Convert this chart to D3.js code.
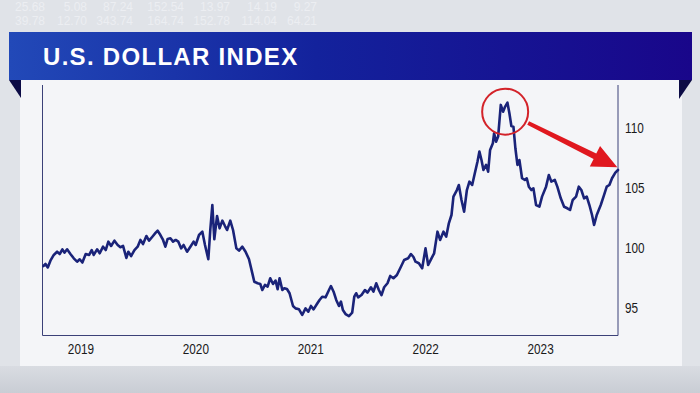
<!DOCTYPE html>
<html>
<head>
<meta charset="utf-8">
<script src="https://cdn.jsdelivr.net/npm/d3@7"></script>
<style>
  html, body { margin: 0; padding: 0; background: #e1e4e9; }
  svg { display: block; }
</style>
</head>
<body>
<svg id="chart"></svg>
<script>
const width = 700, height = 393;

// time in decimal years
const timeYears = [
  2018.678, 2018.696, 2018.716, 2018.739, 2018.768, 2018.797, 2018.820, 2018.843, 2018.861, 2018.884,
  2018.913, 2018.942, 2018.971, 2018.994, 2019.017, 2019.046, 2019.076, 2019.098, 2019.116, 2019.145,
  2019.168, 2019.197, 2019.220, 2019.243, 2019.267, 2019.296, 2019.324, 2019.348, 2019.371, 2019.400,
  2019.417, 2019.441, 2019.470, 2019.498, 2019.522, 2019.545, 2019.574, 2019.597, 2019.626, 2019.655,
  2019.672, 2019.696, 2019.719, 2019.739, 2019.759, 2019.783, 2019.806, 2019.829, 2019.852, 2019.876,
  2019.898, 2019.928, 2019.957, 2019.985, 2020.003, 2020.032, 2020.061, 2020.084, 2020.113, 2020.130,
  2020.148, 2020.165, 2020.189, 2020.211, 2020.235, 2020.258, 2020.276, 2020.304, 2020.328, 2020.357,
  2020.380, 2020.409, 2020.437, 2020.467, 2020.496, 2020.513, 2020.542, 2020.565, 2020.583, 2020.606,
  2020.629, 2020.652, 2020.676, 2020.698, 2020.716, 2020.733, 2020.757, 2020.774, 2020.797, 2020.820,
  2020.850, 2020.872, 2020.902, 2020.930, 2020.959, 2020.983, 2021.006, 2021.029, 2021.058, 2021.081,
  2021.104, 2021.133, 2021.163, 2021.180, 2021.203, 2021.226, 2021.250, 2021.267, 2021.284, 2021.307,
  2021.337, 2021.365, 2021.383, 2021.400, 2021.417, 2021.446, 2021.476, 2021.498, 2021.528, 2021.550,
  2021.574, 2021.597, 2021.620, 2021.643, 2021.672, 2021.696, 2021.724, 2021.754, 2021.789, 2021.817,
  2021.852, 2021.876, 2021.898, 2021.916, 2021.945, 2021.974, 2022.003, 2022.026, 2022.055, 2022.078,
  2022.107, 2022.130, 2022.159, 2022.183, 2022.206, 2022.229, 2022.246, 2022.276, 2022.293, 2022.316,
  2022.339, 2022.363, 2022.385, 2022.409, 2022.432, 2022.455, 2022.472, 2022.490, 2022.507, 2022.530,
  2022.548, 2022.565, 2022.589, 2022.600, 2022.617, 2022.635, 2022.658, 2022.678, 2022.696, 2022.716,
  2022.733, 2022.750, 2022.768, 2022.785, 2022.803, 2022.820, 2022.843, 2022.867, 2022.884, 2022.902,
  2022.924, 2022.942, 2022.965, 2022.994, 2023.017, 2023.052, 2023.076, 2023.098, 2023.128, 2023.150,
  2023.180, 2023.209, 2023.237, 2023.261, 2023.284, 2023.313, 2023.337, 2023.359, 2023.383, 2023.406,
  2023.429, 2023.452, 2023.470, 2023.493, 2023.528, 2023.557, 2023.580, 2023.603, 2023.626, 2023.655,
  2023.678
];

const dxyValues = [
  98.50, 98.67, 98.38, 98.94, 99.42, 99.69, 99.50, 99.89, 99.61, 99.89,
  99.50, 99.14, 98.86, 99.06, 98.79, 99.50, 99.42, 99.83, 99.42, 99.89,
  99.56, 100.11, 99.83, 100.53, 100.17, 100.61, 100.25, 100.06, 100.17, 99.17,
  99.69, 99.33, 99.83, 100.11, 100.67, 100.33, 101.00, 100.61, 100.94, 101.28,
  101.44, 101.08, 100.67, 100.11, 100.75, 100.81, 100.53, 100.67, 100.53, 99.97,
  100.25, 99.69, 100.11, 100.53, 100.25, 101.08, 101.36, 100.25, 99.06, 101.50,
  103.58, 100.73, 102.67, 101.64, 102.28, 101.83, 101.50, 102.28, 101.50, 99.97,
  99.78, 100.11, 99.69, 99.06, 97.89, 97.19, 97.06, 97.00, 96.50, 96.92,
  96.78, 97.48, 97.00, 97.28, 96.56, 97.48, 96.50, 96.64, 96.58, 96.23,
  95.17, 94.97, 94.89, 94.42, 94.97, 94.69, 95.17, 94.89, 95.33, 95.67,
  95.94, 95.89, 96.50, 96.83, 96.36, 95.67, 95.17, 95.53, 94.83, 94.50,
  94.33, 94.61, 95.94, 96.23, 95.89, 96.08, 96.50, 96.28, 96.73, 96.36,
  97.06, 96.50, 96.08, 96.73, 97.06, 97.67, 97.48, 97.75, 98.44, 99.00,
  99.14, 99.50, 99.25, 98.86, 98.73, 98.31, 99.97, 98.58, 99.14, 99.56,
  101.36, 100.67, 101.36, 100.94, 102.06, 102.75, 104.28, 104.83, 105.25, 104.00,
  103.03, 104.83, 105.53, 105.25, 106.23, 107.19, 108.03, 107.33, 106.50, 106.92,
  106.36, 108.17, 108.73, 109.56, 108.86, 109.28, 111.92, 111.36, 111.78, 112.11,
  111.23, 110.17, 110.11, 108.31, 106.92, 107.33, 105.81, 105.67, 105.81, 105.11,
  104.83, 104.97, 103.58, 103.44, 104.28, 105.11, 106.08, 105.53, 105.67, 105.11,
  104.14, 103.44, 103.31, 103.17, 104.00, 104.28, 105.11, 104.83, 104.14, 104.28,
  103.58, 102.75, 101.92, 102.75, 103.58, 104.42, 105.11, 105.25, 105.81, 106.28,
  106.50
];

const yearTicks = [2019, 2020, 2021, 2022, 2023];
const valueTicks = [95, 100, 105, 110];
const chartTitle = "U.S. DOLLAR INDEX";

// faint ticker figures behind the banner
const tickerRow1 = ["25.68", "5.08", "87.24", "152.54", "13.97", "14.19", "9.27"];
const tickerRow2 = ["39.78", "12.70", "343.74", "164.74", "152.78", "114.04", "64.21"];

// red annotation: circle round the 2022 peak, arrow to the latest value
const peakMark = { t: 2022.696, v: 111.36 };
const arrowFrom = { t: 2022.896, v: 110.42 };
const arrowTo = { t: 2023.672, v: 106.72 };

const data = timeYears.map((t, i) => ({ t, v: dxyValues[i] }));

const svg = d3.select("#chart").attr("width", width).attr("height", height);

// ---- scales
const plot = { left: 42.5, right: 618, top: 85, bottom: 335.5 };
const x = d3.scaleLinear().domain([2018.670, 2023.678]).range([plot.left, plot.right]);
const y = d3.scaleLinear().domain([92.71, 113.58]).range([plot.bottom, plot.top]);

// ---- background
const defs = svg.append("defs");
const bannerGrad = defs.append("linearGradient").attr("id", "bannerGrad");
bannerGrad.append("stop").attr("offset", "0%").attr("stop-color", "#2249b8");
bannerGrad.append("stop").attr("offset", "45%").attr("stop-color", "#13229c");
bannerGrad.append("stop").attr("offset", "100%").attr("stop-color", "#19068a");

const bandGrad = defs.append("linearGradient").attr("id", "bandGrad")
  .attr("x1", 0).attr("y1", 0).attr("x2", 0).attr("y2", 1);
bandGrad.append("stop").attr("offset", "0%").attr("stop-color", "#d9dce2");
bandGrad.append("stop").attr("offset", "100%").attr("stop-color", "#c9cdd4");

svg.append("rect").attr("width", width).attr("height", height).attr("fill", "#e0e3e8");
svg.append("rect").attr("x", 20).attr("y", 80).attr("width", 662).attr("height", 286)
  .attr("fill", "#f4f5f8");
svg.append("rect").attr("x", 0).attr("y", 366).attr("width", width).attr("height", 27)
  .attr("fill", "url(#bandGrad)");

const tickerCols = [45, 87, 133, 184, 230, 277, 317];
[tickerRow1, tickerRow2].forEach((row, r) => {
  svg.append("g").selectAll("text").data(row).join("text")
    .attr("x", (d, i) => tickerCols[i])
    .attr("y", 11 + r * 14)
    .attr("text-anchor", "end")
    .style("font-family", "Liberation Sans, Arial, sans-serif")
    .style("font-size", "12px")
    .style("fill", "#eceef2")
    .text(d => d);
});

// ---- banner
svg.append("rect").attr("x", 9).attr("y", 32).attr("width", 683).attr("height", 48)
  .attr("fill", "url(#bannerGrad)");
svg.append("path").attr("d", "M9,80 L21,80 L21,98 Z").attr("fill", "#0c0b45");
svg.append("path").attr("d", "M679,80 L692,80 L679,99 Z").attr("fill", "#0c0b45");
svg.append("text")
  .attr("x", 43).attr("y", 65)
  .style("font-family", "Liberation Sans, Arial, sans-serif")
  .style("font-weight", "bold")
  .style("font-size", "24px")
  .style("letter-spacing", "1.3px")
  .style("fill", "#ffffff")
  .text(chartTitle);

// ---- frame
const frame = svg.append("g").attr("stroke", "#3b4178").attr("stroke-width", 1).attr("fill", "none");
frame.append("path").attr("d", `M${plot.left},${plot.top} V${plot.bottom} H${plot.right} V${plot.top}`);

// ---- axes (labels only); the reference uses a narrow face, so squeeze the glyphs
const labelFont = "'Liberation Sans', Arial, sans-serif";
function narrow(sel) {
  sel.style("font-family", labelFont).style("font-size", "14px").style("fill", "#1a1a1a")
    .each(function () {
      const w = this.getComputedTextLength();
      d3.select(this).attr("textLength", w * 0.84).attr("lengthAdjust", "spacingAndGlyphs");
    });
}
const xAxis = svg.append("g")
  .attr("transform", `translate(0,${plot.bottom})`)
  .call(d3.axisBottom(x).tickValues(yearTicks).tickFormat(d3.format("d")).tickSize(0).tickPadding(9));
xAxis.select(".domain").remove();
xAxis.selectAll("text").call(narrow);

const yAxis = svg.append("g")
  .attr("transform", `translate(${plot.right},0)`)
  .call(d3.axisRight(y).tickValues(valueTicks).tickSize(0).tickPadding(7));
yAxis.select(".domain").remove();
yAxis.selectAll("text").attr("text-anchor", "start").call(narrow);

// ---- series line
svg.append("path")
  .datum(data)
  .attr("fill", "none")
  .attr("stroke", "#1a2379")
  .attr("stroke-width", 2.6)
  .attr("stroke-linejoin", "round")
  .attr("stroke-linecap", "round")
  .attr("d", d3.line().x(d => x(d.t)).y(d => y(d.v)));

// ---- annotation
const red = "#e0181f";
svg.append("circle")
  .attr("cx", x(peakMark.t)).attr("cy", y(peakMark.v)).attr("r", 23)
  .attr("fill", "none").attr("stroke", "#d3232a").attr("stroke-width", 2);

const ax0 = x(arrowFrom.t), ay0 = y(arrowFrom.v), ax1 = x(arrowTo.t), ay1 = y(arrowTo.v);
const len = Math.hypot(ax1 - ax0, ay1 - ay0);
const ux = (ax1 - ax0) / len, uy = (ay1 - ay0) / len;
const nx = -uy, ny = ux;
const headLen = 25, headHalf = 11.5, w0 = 2, w1 = 3;
const bx = ax1 - ux * headLen, by = ay1 - uy * headLen;
const pts = [
  [ax0 + nx * w0, ay0 + ny * w0],
  [bx + nx * w1, by + ny * w1],
  [bx + nx * headHalf, by + ny * headHalf],
  [ax1, ay1],
  [bx - nx * headHalf, by - ny * headHalf],
  [bx - nx * w1, by - ny * w1],
  [ax0 - nx * w0, ay0 - ny * w0]
];
svg.append("path").attr("d", "M" + pts.map(p => p.join(",")).join("L") + "Z").attr("fill", red);
</script>
</body>
</html>
